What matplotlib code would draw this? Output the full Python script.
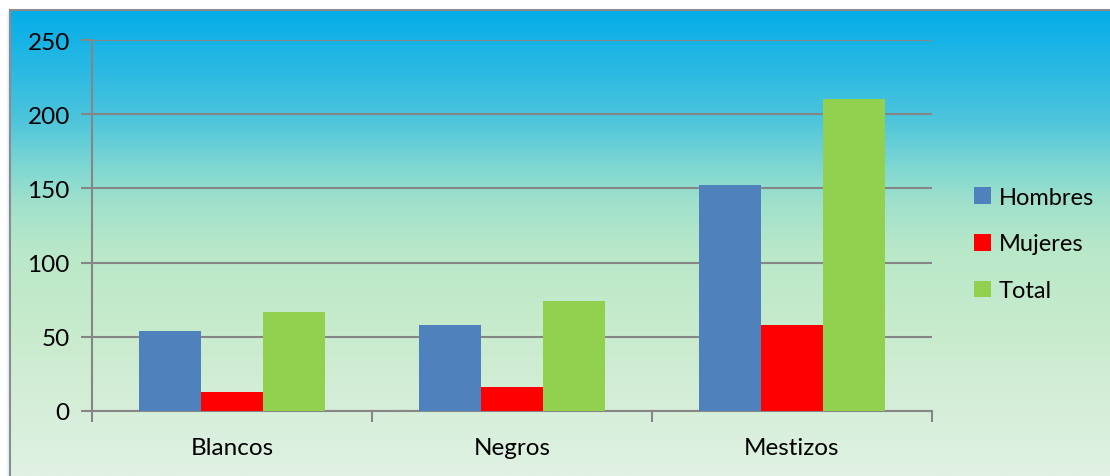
import numpy as np
import matplotlib
matplotlib.use("Agg")
import matplotlib.pyplot as plt
from matplotlib.colors import LinearSegmentedColormap
from matplotlib.lines import Line2D

categorias = ["Blancos", "Negros", "Mestizos"]
hombres = [54, 58, 152]
mujeres = [13, 16, 58]
total = [67, 74, 210]
series = ["Hombres", "Mujeres", "Total"]
colores = ["#4f81bd", "#ff0000", "#92d050"]

plt.rcParams["font.family"] = ["Lato", "DejaVu Sans"]

W, H = 1110, 477
fig = plt.figure(figsize=(W / 100, H / 100), dpi=100)
fig.patch.set_facecolor("white")

# fondo degradado del grafico (azul arriba, verde claro abajo)
fondo = LinearSegmentedColormap.from_list("fondo", [
    (0.00, "#05ade9"),
    (0.11, "#25b8e4"),
    (0.23, "#4cc4dc"),
    (0.34, "#80d8d2"),
    (0.41, "#9fe0cc"),
    (0.51, "#b8e8c8"),
    (0.69, "#c8ebcd"),
    (0.84, "#d5eed8"),
    (1.00, "#e0f2e4"),
])
x0, y0 = 10 / W, 11 / H
bg = fig.add_axes([x0, 0, 1 - x0, 1 - y0], zorder=0)
grad = np.linspace(0, 1, 400).reshape(-1, 1)
bg.imshow(grad, aspect="auto", cmap=fondo, extent=[0, 1, 0, 1], origin="upper")
bg.axis("off")

# borde gris arriba e izquierda, con sombra suave a la izquierda
for i, a in enumerate([0.25, 0.15, 0.08]):
    fig.add_artist(Line2D([x0 - (i + 1) / W] * 2, [0, 1 - y0 - 2 / H],
                          color="#9fd3f0", alpha=a, lw=1.2))
fig.add_artist(Line2D([x0, x0], [0, 1 - y0], color="#8c8c8c", lw=1.5))
fig.add_artist(Line2D([x0, 1], [1 - y0, 1 - y0], color="#8c8c8c", lw=1.5))

# area de trazado
l, r = 92 / W, 932 / W
t, b = 1 - 41 / H, 1 - 412 / H
ax = fig.add_axes([l, b, r - l, t - b], zorder=1)
ax.patch.set_alpha(0)

x = np.arange(len(categorias))
ancho = 62 / 280
for k, (nombre, vals, c) in enumerate(zip(series, [hombres, mujeres, total], colores)):
    ax.bar(x + (k - 1) * ancho, vals, width=ancho, color=c, label=nombre, zorder=3)

ax.set_xlim(-0.5, 2.5)
ax.set_ylim(0, 250)
ax.set_yticks(np.arange(0, 251, 50))
ax.yaxis.grid(True, color="#868686", lw=1.5, zorder=1)
ax.set_axisbelow(True)
for s in ["top", "right"]:
    ax.spines[s].set_visible(False)
for s in ["left", "bottom"]:
    ax.spines[s].set_color("#868686")
    ax.spines[s].set_linewidth(1.5)

ax.set_xticks([-0.5, 0.5, 1.5, 2.5])
ax.set_xticklabels([])
ax.set_xticks(x, minor=True)
ax.set_xticklabels(categorias, minor=True)
ax.tick_params(axis="x", which="major", length=8, width=1.5, color="#868686", direction="out")
ax.tick_params(axis="x", which="minor", length=0, pad=19, labelsize=17.5)
ax.tick_params(axis="y", length=8, width=1.5, color="#868686", pad=8, labelsize=17.5)

ax.legend(loc="center left", bbox_to_anchor=(953 / W, 1 - 245 / H), bbox_transform=fig.transFigure,
          frameon=False, fontsize=17, handlelength=0.7, handleheight=0.7,
          handletextpad=0.35, labelspacing=1.1)

fig.savefig("out.png", dpi=100)
